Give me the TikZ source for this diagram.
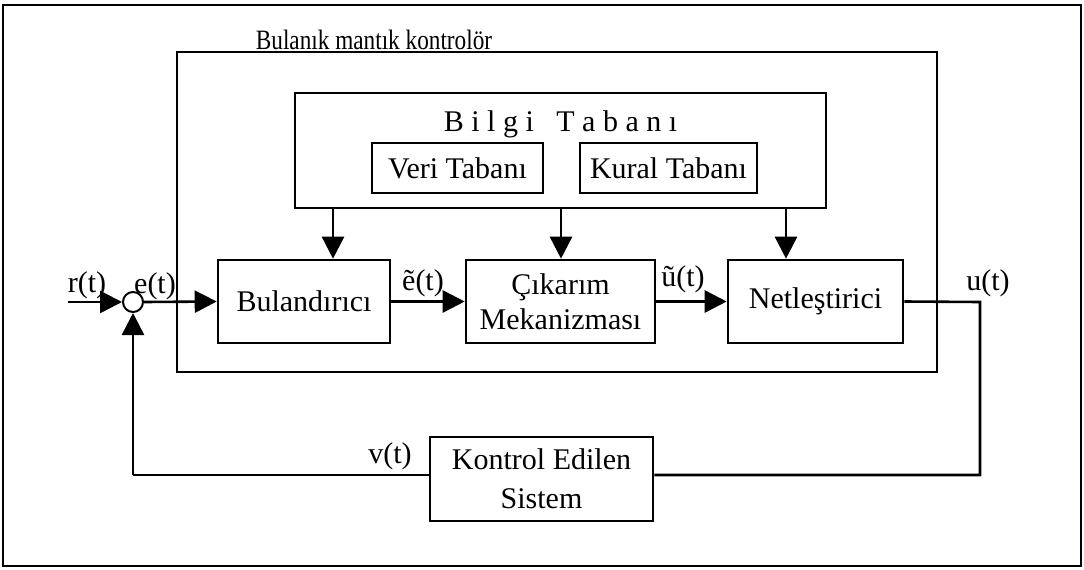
\documentclass[tikz,border=0pt]{standalone}
\usepackage{fontspec}
\setmainfont{Liberation Serif}
\usetikzlibrary{arrows.meta}
\begin{document}
\begin{tikzpicture}[x=1pt,y=-1pt,
  every node/.style={font=\fontsize{30}{35}\selectfont},
  blk/.style={draw,line width=2.6pt,inner sep=0pt,align=center},
  ln/.style={line width=2.6pt},
  arr/.style={line width=2.6pt,-{Triangle[length=22pt,width=22pt]}},
  lbl/.style={inner sep=0pt,anchor=base}]
\useasboundingbox (0,0) rectangle (1084,570);
\draw[line width=2pt] (3,5) rectangle (1081,566);
% controller
\node[blk,minimum width=760pt,minimum height=320pt] (ctrl) at (557,212) {};
\node[lbl,font=\fontsize{28}{32}\selectfont] (title) at (374,49) {\scalebox{0.83}[1]{Bulanık mantık kontrolör}};
% knowledge base
\node[blk,minimum width=531pt,minimum height=115pt] (bilgi) at (560.5,150.5) {};
\node[lbl] (bt) at (560.5,131) {B i l g i \ \ T a b a n ı};
\node[blk,minimum width=171pt,minimum height=50pt] (veri) at (457.5,168) {Veri Tabanı};
\node[blk,minimum width=177pt,minimum height=50pt] (kural) at (668.5,168) {Kural Tabanı};
% blocks
\node[blk,minimum width=172pt,minimum height=83pt] (bul) at (304,301.5) {Bulandırıcı};
\node[blk,minimum width=189pt,minimum height=83pt] (cik) at (560.5,301.5) {Çıkarım\\Mekanizması};
\node[blk,minimum width=175pt,minimum height=83pt] (net) at (815.5,301.5) {Netleştirici};
\node[blk,minimum width=223pt,minimum height=84pt,font=\fontsize{30}{39}\selectfont] (plant) at (541.5,479) {Kontrol Edilen\\Sistem};
% summing junction
\node[draw,circle,line width=2pt,minimum size=20pt,inner sep=0pt] (sum) at (133,302) {};
% coordinates
\coordinate (rin) at (68,302);
\coordinate (uc) at (980,302);
\coordinate (ud) at (980,475);
\coordinate (vc) at (133,475);
\coordinate (k1) at (333,0);
\coordinate (k2) at (561,0);
\coordinate (k3) at (786,0);
% labels
\node[lbl] (rt) at (87,292) {r(t)};
\node[lbl] (et) at (155,293) {e(t)};
\node[lbl] (ett) at (423,290) {ẽ(t)};
\node[lbl] (utt) at (683,286) {ũ(t)};
\node[lbl] (ut) at (988,290) {u(t)};
\node[lbl] (vt) at (390,463) {v(t)};
% connectors
\draw[arr] (rin) -- (sum.west);
\draw[arr] (sum.east) -- (bul.west);
\draw[arr] (bul.east) -- (cik.west);
\draw[arr] (cik.east) -- (net.west);
\draw[ln] (net.east) -- (uc) -- (ud) -- (plant.east |- ud);
\draw[ln] (plant.west |- vc) -- (vc);
\draw[arr] (vc) -- (sum.south);
\draw[arr] (bilgi.south -| k1) -- (bul.north -| k1);
\draw[arr] (bilgi.south -| k2) -- (cik.north -| k2);
\draw[arr] (bilgi.south -| k3) -- (net.north -| k3);
\end{tikzpicture}
\end{document}
